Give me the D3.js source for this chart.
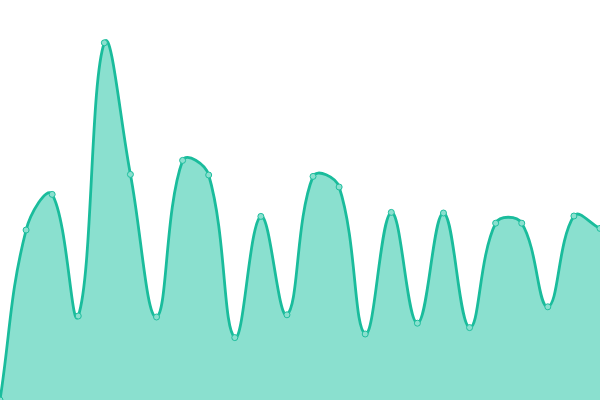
<!DOCTYPE html>
<html>
<head>
<meta charset="utf-8">
<script src="https://cdn.jsdelivr.net/npm/d3@7"></script>
<style>
  html, body { margin: 0; padding: 0; background: #fff; }
  svg { display: block; }
</style>
</head>
<body>
<script>
// chart data
var categories = ["1","2","3","4","5","6","7","8","9","10","11","12",
                  "13","14","15","16","17","18","19","20","21","22","23","24"];
var values = [0, 42.5, 51.4, 21, 89.3, 56.4, 20.75, 59.9, 56.25, 15.6, 45.9, 21.3,
              55.9, 53.25, 16.5, 46.9, 19.2, 46.75, 18.1, 44.2, 44.2, 23.3, 46, 42.9];
var yDomain = [0, 100];

var width = 600, height = 400;

var svg = d3.select("body").append("svg")
            .attr("width", width)
            .attr("height", height);

var x = d3.scalePoint().domain(categories).range([0, width]);
var y = d3.scaleLinear().domain(yDomain).range([height, 0]);

// spline with chord-weighted tension (like a canvas chart's tension 0.4)
function TensionCurve(context) { this._context = context; }
TensionCurve.prototype = {
  areaStart: function () { this._line = 0; },
  areaEnd: function () { this._line = NaN; },
  lineStart: function () { this._pts = []; },
  point: function (px, py) { this._pts.push([+px, +py]); },
  lineEnd: function () {
    var p = this._pts, n = p.length, ctx = this._context, t = 0.4;
    if (n) {
      if (this._line) ctx.lineTo(p[0][0], p[0][1]); else ctx.moveTo(p[0][0], p[0][1]);
      var cps = p.map(function (cur, i) {
        var prev = p[i - 1] || cur, next = p[i + 1] || cur;
        var d01 = Math.hypot(cur[0] - prev[0], cur[1] - prev[1]);
        var d12 = Math.hypot(next[0] - cur[0], next[1] - cur[1]);
        var s = d01 + d12 || 1;
        var fa = t * d01 / s, fb = t * d12 / s;
        var c = function (v) { return Math.max(0, Math.min(height, v)); };
        return {
          prev: [cur[0] - fa * (next[0] - prev[0]), c(cur[1] - fa * (next[1] - prev[1]))],
          next: [cur[0] + fb * (next[0] - prev[0]), c(cur[1] + fb * (next[1] - prev[1]))]
        };
      });
      for (var i = 1; i < n; i++) {
        ctx.bezierCurveTo(cps[i - 1].next[0], cps[i - 1].next[1],
                          cps[i].prev[0], cps[i].prev[1], p[i][0], p[i][1]);
      }
    }
    if (this._line || (this._line !== 0 && n === 1)) ctx.closePath();
    this._line = 1 - this._line;
  }
};
var curveTension = function (context) { return new TensionCurve(context); };

var data = categories.map(function (c, i) { return { cat: c, value: values[i] }; });

var area = d3.area()
             .x(function (d) { return x(d.cat); })
             .y0(y(yDomain[0]))
             .y1(function (d) { return y(d.value); })
             .curve(curveTension);

var line = d3.line()
             .x(function (d) { return x(d.cat); })
             .y(function (d) { return y(d.value); })
             .curve(curveTension);

svg.append("path")
   .datum(data)
   .attr("d", area)
   .attr("fill", "#8ae0cf");

svg.append("path")
   .datum(data)
   .attr("d", line)
   .attr("fill", "none")
   .attr("stroke", "#1abc9c")
   .attr("stroke-width", 2.8);

svg.selectAll("circle")
   .data(data)
   .enter()
   .append("circle")
   .attr("cx", function (d) { return x(d.cat); })
   .attr("cy", function (d) { return y(d.value); })
   .attr("r", 3)
   .attr("fill", "#8ae0cf")
   .attr("stroke", "#1fbe9e")
   .attr("stroke-width", 1);
</script>
</body>
</html>
